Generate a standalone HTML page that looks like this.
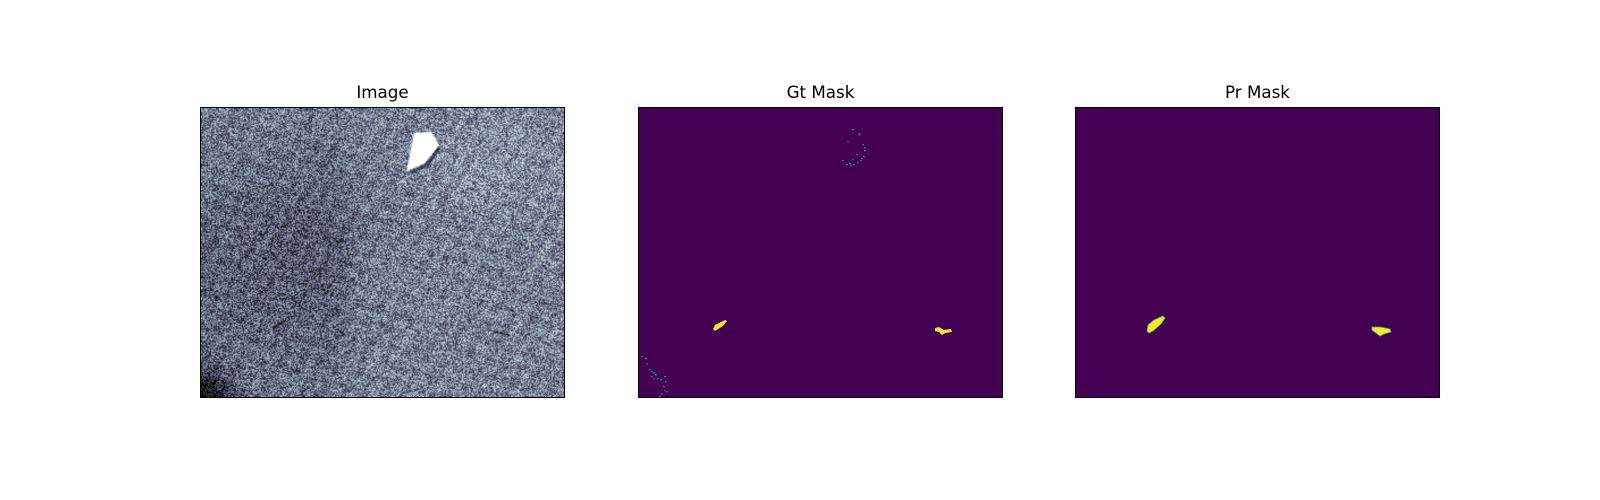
<!DOCTYPE html>
<html><head><meta charset="utf-8">
<style>
html,body{margin:0;padding:0;background:#fff;width:1600px;height:500px;overflow:hidden;font-family:"Liberation Sans","DejaVu Sans",sans-serif}
.ax{position:absolute;top:107px;width:365px;height:291px;box-sizing:border-box;border:1px solid #000;overflow:hidden}
.title{position:absolute;top:82px;width:365px;text-align:center;font-size:16.7px;color:#000;font-family:"DejaVu Sans","Liberation Sans",sans-serif}
canvas,svg{display:block;width:363px;height:289px}
</style></head><body>
<div class="title" style="left:200px">Image</div>
<div class="title" style="left:638px">Gt Mask</div>
<div class="title" style="left:1075px">Pr Mask</div>

<div class="ax" style="left:200px">
<canvas id="img" width="320" height="256"></canvas>
</div>

<div class="ax" style="left:638px">
<svg viewBox="0 0 363 289">
<rect width="363" height="289" fill="#440154"/>
<polygon points="74,221 76,217 86,212 88,213 84,218 76,223" fill="#fde725"/>
<polygon points="296,220 300,219 305,222 312,221 313,224 306,225 303,227 300,224 296,223" fill="#fde725"/>
<g id="gtdots" fill="#2a788e"></g>
</svg>
</div>

<div class="ax" style="left:1075px">
<svg viewBox="0 0 363 289">
<rect width="363" height="289" fill="#440154"/>
<polygon points="71,223 72,217 78,212 87,208 89,210 85,216 77,223 73,225" fill="#fde725" stroke="#35b779" stroke-width="0.8"/>
<polygon points="296,219 304,219 314,221 315,224 308,226 304,228 300,225 296,222" fill="#fde725" stroke="#35b779" stroke-width="0.8"/>
</svg>
</div>

<script>
// Ground-truth scattered speckle pixels (axes pixel coords)
const dotX=[213,220,208,223,225,225,224,222,213,217,210,218,221,224,203,207,211,214,219,2,6,7,10,12,14,16,12,14,18,21,25,26,24,25,22,20,27];
const dotY=[21,26,33,36,39,42,48,50,51,46,55,54,52,48,52,56,57,56,25,248,250,255,261,263,264,266,268,270,270,271,268,273,278,282,285,288,283];
const g=document.getElementById('gtdots');
for(let i=0;i<dotX.length;i++){
  const r=document.createElementNS('http://www.w3.org/2000/svg','rect');
  
  
  r.setAttribute('x',dotX[i]);r.setAttribute('y',dotY[i]);
  r.setAttribute('width',1.8);r.setAttribute('height',1.3);
  r.setAttribute('fill',i%5==0?'#22a884':'#2a788e');
  g.appendChild(r);
}
// textured SAR-like image
const c=document.getElementById('img'),ctx=c.getContext('2d');
const W=320,H=256,id=ctx.createImageData(W,H);
let s=987654321;
function rnd(){s|=0;s=s+0x6D2B79F5|0;let t=Math.imul(s^s>>>15,1|s);t=t+Math.imul(t^t>>>7,61|t)^t;return((t^t>>>14)>>>0)/4294967296;}
for(let y=0;y<H;y++)for(let x=0;x<W;x++){
  let base=0.52;
  // darker left region with boundary around x=130
  const edge=1/(1+Math.exp((x-130)/6));
  const dy=(y-150)/110;base-=0.11*edge*Math.exp(-dy*dy);
  const dx=(x-100)/60,ddy=(y-110)/70;base-=0.05*Math.exp(-(dx*dx+ddy*ddy));
  // brighter right-top
  const ex=(x-260)/60,ey=(y-50)/45;base+=0.07*Math.exp(-(ex*ex+ey*ey));
  // dark bottom-left corner
  const cx=x/28,cy=(H-y)/24;base-=0.45*Math.exp(-(cx*cx+cy*cy));
  base+=0.03*Math.sin(x*0.35+y*0.22)+0.025*Math.sin(x*0.12-y*0.4);
  let v=base+(rnd()-0.5)*0.6;v=Math.max(0,Math.min(1,v));
  const r=v<0.75?v*0.89:0.667+(v-0.75)*1.33;
  const gg=v<0.375?v*0.89:(v<0.75?0.333+(v-0.375)*1.11:0.75+(v-0.75)*1.0);
  const b=v<0.375?v*1.22:0.458+(v-0.375)*0.87;
  const k=(y*W+x)*4;id.data[k]=Math.min(255,r*255);id.data[k+1]=Math.min(255,gg*255);id.data[k+2]=Math.min(255,b*255);id.data[k+3]=255;
}
ctx.putImageData(id,0,0);
// white object
ctx.fillStyle='#fff';ctx.beginPath();
ctx.moveTo(188,22);ctx.lineTo(203,21);ctx.lineTo(210,33);ctx.lineTo(197,49);ctx.lineTo(181,56);ctx.closePath();ctx.fill();
ctx.strokeStyle='rgba(20,25,35,0.6)';ctx.lineWidth=3;ctx.beginPath();ctx.moveTo(210,35);ctx.lineTo(200,50);ctx.lineTo(185,57);ctx.stroke();
// dark streaks
ctx.strokeStyle='#0e1218';ctx.lineWidth=1.5;
ctx.beginPath();ctx.moveTo(63,195);ctx.lineTo(75,188);ctx.stroke();
ctx.lineWidth=1;ctx.beginPath();ctx.moveTo(258,198);ctx.lineTo(272,201);ctx.stroke();
</script>
</body></html>
